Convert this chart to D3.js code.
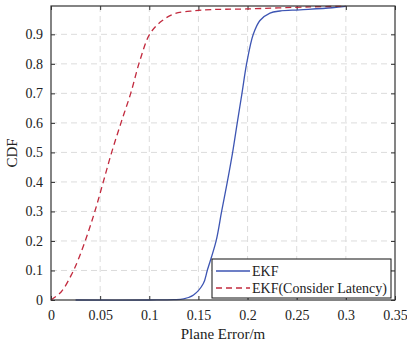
<!DOCTYPE html>
<html>
<head>
<meta charset="utf-8">
<script src="https://cdn.jsdelivr.net/npm/d3@7"></script>
<style>
  html, body { margin: 0; padding: 0; background: #fff; }
  svg text { font-family: 'Liberation Serif', 'DejaVu Serif', 'Times New Roman', serif; fill: #222; }
</style>
</head>
<body>
<div id="cdf-viz"></div>
<script>
// EKF plane error CDF
const ekfX = [0.025, 0.10, 0.125, 0.135, 0.145, 0.155, 0.159, 0.168, 0.1736, 0.1794, 0.1848, 0.1895, 0.1943, 0.199, 0.2058, 0.2126, 0.2228, 0.233, 0.2533, 0.286, 0.30];
const ekfY = [0, 0, 0.001, 0.004, 0.017, 0.056, 0.1, 0.2, 0.3, 0.4, 0.5, 0.6, 0.7, 0.8, 0.9, 0.947, 0.972, 0.979, 0.983, 0.99, 0.995];

// EKF (Consider Latency)
const latX = [0, 0.0105, 0.0207, 0.0275, 0.0376, 0.0455, 0.0532, 0.0617, 0.0712, 0.0811, 0.0905, 0.1007, 0.1126, 0.126, 0.1465, 0.163, 0.199, 0.263, 0.30];
const latY = [0, 0.028, 0.085, 0.135, 0.227, 0.31, 0.4, 0.5, 0.6, 0.7, 0.812, 0.902, 0.945, 0.97, 0.98, 0.984, 0.986, 0.993, 0.995];

const xTicks = [0, 0.05, 0.1, 0.15, 0.2, 0.25, 0.3, 0.35];
const yTicks = [0, 0.1, 0.2, 0.3, 0.4, 0.5, 0.6, 0.7, 0.8, 0.9];
const seriesNames = ['EKF', 'EKF(Consider Latency)'];

const serif = "'Liberation Serif', 'DejaVu Serif', 'Times New Roman', serif";

const drawCdf = (vizElement) => {
  const totalWidth = 407;
  const totalHeight = 345;
  const margin = { top: 6, right: 12, bottom: 45, left: 51 };
  const width = totalWidth - margin.left - margin.right;
  const height = totalHeight - margin.top - margin.bottom;

  const xScale = d3.scaleLinear().domain([0, 0.35]).range([0, width]);
  const yScale = d3.scaleLinear().domain([0, 0.996]).range([height, 0]);

  const svg = d3
    .select(`#${vizElement}`)
    .append('svg')
    .attr('width', totalWidth)
    .attr('height', totalHeight)
    .attr('font-family', serif)
    .append('g')
    .attr('transform', `translate(${margin.left}, ${margin.top})`);

  svg.append('rect')
    .attr('width', width)
    .attr('height', height)
    .attr('fill', '#fff');

  // dashed grid
  svg.append('g')
    .selectAll('line')
    .data(xTicks.slice(1, -1))
    .join('line')
    .attr('x1', (d) => xScale(d))
    .attr('x2', (d) => xScale(d))
    .attr('y1', 0)
    .attr('y2', height)
    .attr('stroke', '#dcdcdc')
    .attr('stroke-dasharray', '6,4');

  svg.append('g')
    .selectAll('line')
    .data(yTicks.slice(1))
    .join('line')
    .attr('x1', 0)
    .attr('x2', width)
    .attr('y1', (d) => yScale(d))
    .attr('y2', (d) => yScale(d))
    .attr('stroke', '#dcdcdc')
    .attr('stroke-dasharray', '6,4');

  // axes, ticks pointing inward
  const styleAxis = (g) => {
    g.attr('font-family', serif);
    g.select('.domain').remove();
    g.selectAll('.tick line').attr('stroke', '#333');
    g.selectAll('.tick text')
      .style('font-family', serif)
      .style('font-size', '14px');
  };

  svg.append('g')
    .attr('transform', `translate(0, ${height})`)
    .call(d3.axisBottom(xScale).tickValues(xTicks).tickFormat((d) => `${d}`).tickSizeInner(-4).tickPadding(10))
    .call(styleAxis);

  svg.append('g')
    .call(d3.axisTop(xScale).tickValues(xTicks).tickFormat('').tickSizeInner(-4))
    .call(styleAxis);

  svg.append('g')
    .call(d3.axisLeft(yScale).tickValues(yTicks).tickFormat((d) => `${d}`).tickSizeInner(-4).tickPadding(8))
    .call(styleAxis);

  svg.append('g')
    .attr('transform', `translate(${width}, 0)`)
    .call(d3.axisRight(yScale).tickValues(yTicks).tickFormat('').tickSizeInner(-4))
    .call(styleAxis);

  const line = d3.line()
    .x((d) => xScale(d[0]))
    .y((d) => yScale(d[1]))
    .curve(d3.curveCatmullRom.alpha(0.5));

  svg.append('path')
    .datum(d3.zip(ekfX, ekfY))
    .attr('fill', 'none')
    .attr('stroke', '#3d55b3')
    .attr('stroke-width', 1.3)
    .attr('d', line);

  svg.append('path')
    .datum(d3.zip(latX, latY))
    .attr('fill', 'none')
    .attr('stroke', '#c22a3e')
    .attr('stroke-width', 1.3)
    .attr('stroke-dasharray', '6,4')
    .attr('d', line);

  // box
  svg.append('rect')
    .attr('width', width)
    .attr('height', height)
    .attr('fill', 'none')
    .attr('stroke', '#333')
    .attr('stroke-width', 1.2);

  // axis labels
  svg.append('text')
    .attr('x', width / 2)
    .attr('y', height + 39)
    .attr('text-anchor', 'middle')
    .style('font-family', serif)
    .style('font-size', '15px')
    .text('Plane Error/m');

  svg.append('text')
    .attr('transform', `translate(${-34}, ${height / 2}) rotate(-90)`)
    .attr('text-anchor', 'middle')
    .style('font-family', serif)
    .style('font-size', '15px')
    .text('CDF');

  // legend
  const legend = svg.append('g')
    .attr('transform', `translate(${212 - margin.left}, ${259 - margin.top})`);

  legend.append('rect')
    .attr('width', 179)
    .attr('height', 39)
    .attr('fill', '#fff')
    .attr('stroke', '#111')
    .attr('stroke-width', 1);

  const legendColors = ['#3d55b3', '#c22a3e'];
  const legendDash = [null, '6,4'];

  seriesNames.forEach((name, i) => {
    const y = 12 + i * 17;
    legend.append('line')
      .attr('x1', 4)
      .attr('x2', 38)
      .attr('y1', y)
      .attr('y2', y)
      .attr('stroke', legendColors[i])
      .attr('stroke-width', 1.3)
      .attr('stroke-dasharray', legendDash[i]);
    legend.append('text')
      .attr('x', 40)
      .attr('y', y + 5)
      .style('font-family', serif)
      .style('font-size', '14px')
      .text(name);
  });
};

drawCdf('cdf-viz');
</script>
</body>
</html>
